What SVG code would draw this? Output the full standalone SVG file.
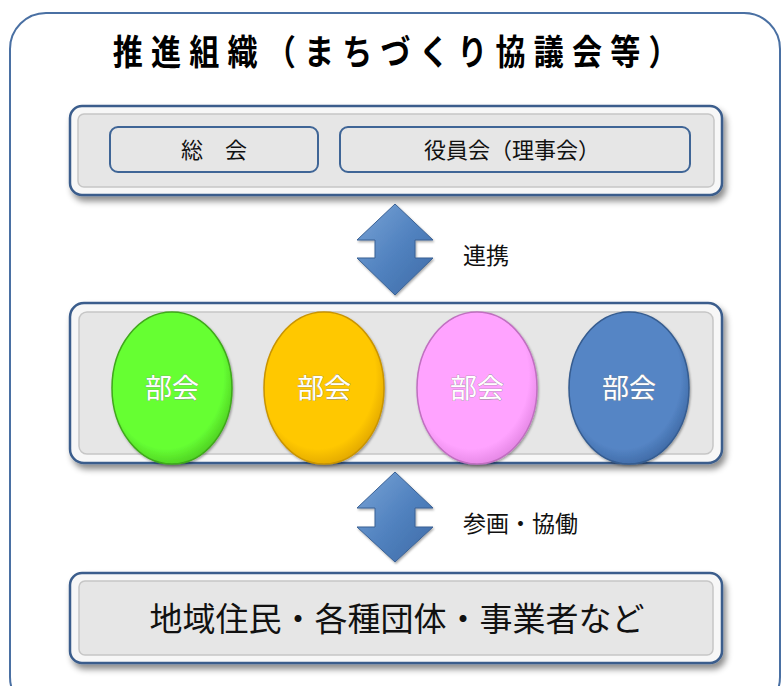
<svg xmlns="http://www.w3.org/2000/svg" width="784" height="686" viewBox="0 0 784 686">
<defs>
<style>
.jp{font-family:"Noto Sans CJK JP","Noto Sans CJK SC",sans-serif;}
.outer{fill:#f7f7f7;stroke:#3a5d8c;stroke-width:2.5;}
.inner{fill:#e6e6e6;stroke:#c6c6c6;stroke-width:1.5;}
.sub{fill:#e6e6e6;stroke:#3f6596;stroke-width:2;}
.lbl{font-size:22px;fill:#111;}
.cl{font-size:23px;fill:#111;}
.bu{font-size:27px;fill:#ffffff;stroke:#8a8a8a;stroke-width:0.6;paint-order:stroke;}
.arr{fill:url(#ag);stroke:#3a6194;stroke-width:1;}
</style>
<filter id="sh" x="-5%" y="-10%" width="110%" height="130%">
<feDropShadow dx="3" dy="5" stdDeviation="3" flood-color="#000" flood-opacity="0.45"/>
</filter>
<filter id="ts" x="-10%" y="-10%" width="120%" height="130%">
<feDropShadow dx="1" dy="1.5" stdDeviation="1" flood-color="#000" flood-opacity="0.35"/>
</filter>
<linearGradient id="ag" x1="0" y1="0" x2="1" y2="1">
<stop offset="0" stop-color="#7aa4d6"/>
<stop offset="0.5" stop-color="#5283c0"/>
<stop offset="1" stop-color="#3d6aa6"/>
</linearGradient>
<radialGradient id="gg" cx="0.45" cy="0.42" r="0.6">
<stop offset="0.8" stop-color="#66ff33"/>
<stop offset="1" stop-color="#4ecf22"/>
</radialGradient>
<radialGradient id="yg" cx="0.45" cy="0.42" r="0.6">
<stop offset="0.8" stop-color="#ffc800"/>
<stop offset="1" stop-color="#e2a800"/>
</radialGradient>
<radialGradient id="pg" cx="0.45" cy="0.42" r="0.6">
<stop offset="0.8" stop-color="#ffa3ff"/>
<stop offset="1" stop-color="#e486e4"/>
</radialGradient>
<radialGradient id="bg" cx="0.45" cy="0.42" r="0.6">
<stop offset="0.8" stop-color="#5585c5"/>
<stop offset="1" stop-color="#3f6aa6"/>
</radialGradient>
</defs>
<rect width="784" height="686" fill="#ffffff"/>
<rect x="10" y="13" width="770" height="700" rx="36" fill="#ffffff" stroke="#4a70a3" stroke-width="2"/>
<text class="jp" transform="translate(392,65) scale(0.86,1)" x="9" y="0" text-anchor="middle" font-size="35" font-weight="bold" fill="#000" letter-spacing="9.5">推進組織（まちづくり協議会等）</text>

<g id="top-box">
<rect class="outer" x="70" y="106" width="652" height="89" rx="12" filter="url(#sh)"/>
<rect class="inner" x="78" y="114" width="636" height="73" rx="6"/>
<g id="soukai">
<rect class="sub" x="110" y="127" width="208" height="45" rx="8"/>
<text class="jp lbl" x="214" y="158" text-anchor="middle">総　会</text>
</g>
<g id="yakuinkai">
<rect class="sub" x="340" y="127" width="350" height="45" rx="8"/>
<text class="jp lbl" x="512" y="158" text-anchor="middle">役員会（理事会）</text>
</g>
</g>

<g id="middle-box">
<rect class="outer" x="70" y="303" width="652" height="160" rx="14" filter="url(#sh)"/>
<rect class="inner" x="79" y="312" width="634" height="142" rx="8"/>
<g id="bukai1">
<ellipse cx="172" cy="388" rx="60" ry="76" fill="url(#gg)" stroke="#3fa81a" stroke-width="1.5" filter="url(#ts)"/>
<text class="jp bu" x="172" y="398" text-anchor="middle">部会</text>
</g>
<g id="bukai2">
<ellipse cx="324" cy="388" rx="60" ry="76" fill="url(#yg)" stroke="#c99400" stroke-width="1.5" filter="url(#ts)"/>
<text class="jp bu" x="324" y="398" text-anchor="middle">部会</text>
</g>
<g id="bukai3">
<ellipse cx="477" cy="388" rx="60" ry="76" fill="url(#pg)" stroke="#c070c0" stroke-width="1.5" filter="url(#ts)"/>
<text class="jp bu" x="477" y="398" text-anchor="middle">部会</text>
</g>
<g id="bukai4">
<ellipse cx="629" cy="388" rx="60" ry="76" fill="url(#bg)" stroke="#355c90" stroke-width="1.5" filter="url(#ts)"/>
<text class="jp bu" x="629" y="398" text-anchor="middle">部会</text>
</g>
</g>

<g id="bottom-box">
<rect class="outer" x="70" y="573" width="652" height="90" rx="12" filter="url(#sh)"/>
<rect class="inner" x="79" y="581" width="634" height="74" rx="6"/>
<text class="jp" x="397" y="631" text-anchor="middle" font-size="33" fill="#111">地域住民・各種団体・事業者など</text>
</g>

<g id="connectors">
<path class="arr" filter="url(#ts)" d="M395,204 L433,240 L415,240 L415,258 L433,258 L395,295 L357,258 L375,258 L375,240 L357,240 Z"/>
<text class="jp cl" x="463" y="264">連携</text>
<path class="arr" filter="url(#ts)" d="M395,472 L433,508 L415,508 L415,527 L433,527 L395,562 L357,527 L375,527 L375,508 L357,508 Z"/>
<text class="jp cl" x="463" y="532">参画・協働</text>
</g>
</svg>
